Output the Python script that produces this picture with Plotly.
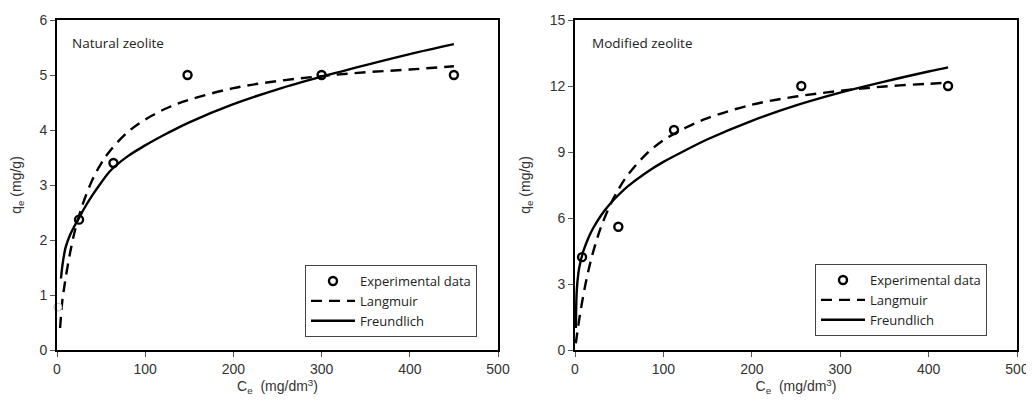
import plotly.graph_objects as go

# ---------------- data ----------------
# Natural zeolite
nat_ce = [25, 64, 148, 300, 450]
nat_qe = [2.37, 3.40, 5.0, 5.0, 5.0]
nat_hidden_ce = [1]
nat_hidden_qe = [0.78]

nat_lang_ce = [3.5, 6, 8, 10, 15, 20, 25, 30, 40, 50, 60, 80, 100, 125, 150, 200, 250, 300, 350, 400, 450]
nat_lang_qe = [0.40, 0.89, 1.12, 1.33, 1.78, 2.15, 2.44, 2.69, 3.09, 3.39, 3.62, 3.96, 4.19, 4.40, 4.55, 4.76, 4.89, 4.98, 5.05, 5.10, 5.16]

nat_freu_ce = [4.5, 6, 8, 10, 15, 20, 25, 30, 40, 50, 60, 80, 100, 125, 150, 200, 250, 300, 350, 400, 450]
nat_freu_qe = [1.30, 1.52, 1.73, 1.88, 2.10, 2.26, 2.40, 2.55, 2.81, 3.04, 3.25, 3.52, 3.72, 3.94, 4.14, 4.47, 4.74, 4.97, 5.18, 5.38, 5.56]

# Modified zeolite
mod_ce = [8, 49, 112, 256, 422]
mod_qe = [4.22, 5.6, 10.0, 12.0, 12.0]

mod_lang_ce = [1.0, 1.5, 3, 5, 8, 12, 16, 20, 25, 30, 40, 50, 60, 80, 100, 125, 150, 200, 250, 300, 350, 400, 422]
mod_lang_qe = [0.30, 0.47, 0.91, 1.45, 2.17, 3.02, 3.75, 4.38, 5.06, 5.65, 6.61, 7.36, 7.97, 8.88, 9.53, 10.10, 10.54, 11.15, 11.52, 11.78, 11.98, 12.10, 12.15]

mod_freu_ce = [1.0, 2, 4, 6, 8, 10, 15, 20, 30, 40, 50, 60, 80, 100, 125, 150, 200, 250, 300, 350, 400, 422]
mod_freu_qe = [1.0, 2.7, 3.55, 3.98, 4.29, 4.56, 5.08, 5.50, 6.15, 6.66, 7.08, 7.45, 8.05, 8.55, 9.08, 9.58, 10.42, 11.12, 11.70, 12.20, 12.66, 12.85]

x_ticks = [0, 100, 200, 300, 400, 500]
nat_y_ticks = [0, 1, 2, 3, 4, 5, 6]
mod_y_ticks = [0, 3, 6, 9, 12, 15]

panel_labels = ["Natural zeolite", "Modified zeolite"]

# ---------------- styling ----------------
OFF = 8  # page body margin
W, H = 1034 - OFF, 403 - OFF
TICK_FONT = dict(family="Liberation Sans, Arial, sans-serif", size=14, color="#333333")
TEXT_FONT = dict(family="Open Sans, Lato, sans-serif", size=13.5, color="#222222")
LEG_FONT = dict(family="Open Sans, Lato, sans-serif", size=13, color="#222222")
LINE_W = 2.4
DASH = "11px,7px"

fig = go.Figure()


def add_panel(xa, ya, legend, ce, qe, lce, lqe, fce, fqe):
    fig.add_trace(go.Scatter(
        x=ce, y=qe, mode="markers", name="Experimental data",
        marker=dict(symbol="circle-open", size=8, color="black", line=dict(width=2.4, color="black")),
        xaxis=xa, yaxis=ya, legend=legend, cliponaxis=False))
    fig.add_trace(go.Scatter(
        x=lce, y=lqe, mode="lines", name="Langmuir",
        line=dict(color="black", width=LINE_W, dash=DASH, shape="spline"),
        xaxis=xa, yaxis=ya, legend=legend))
    fig.add_trace(go.Scatter(
        x=fce, y=fqe, mode="lines", name="Freundlich",
        line=dict(color="black", width=LINE_W, shape="spline"),
        xaxis=xa, yaxis=ya, legend=legend))


add_panel("x", "y", "legend", nat_ce, nat_qe, nat_lang_ce, nat_lang_qe, nat_freu_ce, nat_freu_qe)
add_panel("x2", "y2", "legend2", mod_ce, mod_qe, mod_lang_ce, mod_lang_qe, mod_freu_ce, mod_freu_qe)

# faint first point at the axis (left panel)
fig.add_trace(go.Scatter(
    x=nat_hidden_ce, y=nat_hidden_qe, mode="markers", showlegend=False,
    marker=dict(symbol="circle", size=8, color="white", line=dict(width=1, color="#bbbbbb")),
    xaxis="x", yaxis="y", cliponaxis=False))


def px_x(p):
    return (p - OFF) / W


def px_y(p):
    return (H - (p - OFF)) / H


# Layout geometry (window pixels -> paper)
ydom = [px_y(350), px_y(20)]
x1dom = [px_x(57), px_x(498)]
x2dom = [px_x(575), px_x(1017)]

axis_common = dict(
    showline=True, linecolor="black", linewidth=1.6, mirror=True,
    ticks="outside", ticklen=5, tickcolor="#555555", tickwidth=1,
    showgrid=False, zeroline=False, tickfont=TICK_FONT, automargin=False,
)

xtitle = dict(text="C<sub>e</sub>  (mg/dm<sup>3</sup>)", font=TICK_FONT, standoff=4)
ytitle = dict(text="q<sub>e</sub> (mg/g)", font=TICK_FONT, standoff=16)

leg_common = dict(xanchor="left", yanchor="top", bgcolor="white", bordercolor="#444444",
                  borderwidth=1, font=LEG_FONT, tracegroupgap=0, itemwidth=44)

fig.update_layout(
    width=W, height=H,
    margin=dict(l=0, r=0, t=0, b=0, autoexpand=False),
    paper_bgcolor="white", plot_bgcolor="white",
    xaxis=dict(domain=x1dom, range=[0, 500], tickvals=x_ticks, title=xtitle, anchor="y", **axis_common),
    yaxis=dict(domain=ydom, range=[0, 6], tickvals=nat_y_ticks, title=ytitle, anchor="x", **axis_common),
    xaxis2=dict(domain=x2dom, range=[0, 500], tickvals=x_ticks, title=xtitle, anchor="y2", **axis_common),
    yaxis2=dict(domain=ydom, range=[0, 15], tickvals=mod_y_ticks, title=ytitle, anchor="x2", **axis_common),
    legend=dict(x=px_x(305), y=px_y(265), **leg_common),
    legend2=dict(x=px_x(815), y=px_y(264), **leg_common),
    showlegend=True,
    annotations=[
        dict(text=panel_labels[0], x=px_x(70), y=px_y(43), xref="paper", yref="paper",
             xanchor="left", yanchor="middle", showarrow=False, font=TEXT_FONT),
        dict(text=panel_labels[1], x=px_x(590), y=px_y(43), xref="paper", yref="paper",
             xanchor="left", yanchor="middle", showarrow=False, font=TEXT_FONT),
    ],
)

fig.write_html("out.html")
